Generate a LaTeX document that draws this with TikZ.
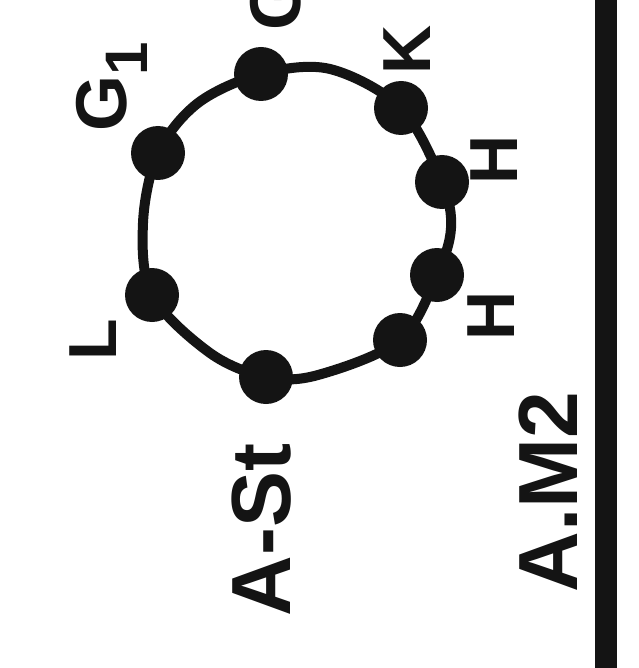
\documentclass[tikz,border=0pt]{standalone}
\usepackage{fontspec}
\setmainfont{Liberation Sans}
\begin{document}
\begin{tikzpicture}[x=1pt,y=1pt,
  dot/.style={circle,fill=ink,draw=none,minimum size=54pt,inner sep=0pt},
  ring/.style={draw=ink,line width=10pt},
  bar/.style={draw=ink,line width=22pt},
  lbl/.style={rotate=90,inner sep=0pt,text=ink,font=\bfseries\fontsize{68}{68}\selectfont},
  biglbl/.style={lbl,font=\bfseries\fontsize{84}{84}\selectfont},
  glbl/.style={lbl,font=\bfseries\fontsize{72}{72}\selectfont}]
\definecolor{ink}{RGB}{20,20,20}
\useasboundingbox (0,0) rectangle (638,-668);
\clip (0,0) rectangle (638,-668);
\fill[white] (0,0) rectangle (638,-668);
% positions on the ring
\coordinate (pg1) at (158,-153);
\coordinate (qtl) at (198,-103);
\coordinate (pg)  at (261,-74);
\coordinate (qt)  at (330,-69);
\coordinate (pk)  at (401,-108);
\coordinate (ph1) at (442,-182);
\coordinate (qr)  at (451,-228);
\coordinate (ph2) at (437,-275);
\coordinate (pbr) at (400,-340);
\coordinate (qb)  at (318,-375);
\coordinate (pas) at (266,-377);
\coordinate (qbl) at (210,-353);
\coordinate (pl)  at (152,-295);
\coordinate (ql)  at (143,-223);
\draw[ring] plot[smooth cycle, tension=0.55] coordinates
  {(pg1) (qtl) (pg) (qt) (pk) (ph1) (qr) (ph2) (pbr) (qb) (pas) (qbl) (pl) (ql)};
% beads
\node[dot] (dg1) at (pg1) {};
\node[dot] (dg)  at (pg)  {};
\node[dot] (dk)  at (pk)  {};
\node[dot] (dh1) at (ph1) {};
\node[dot] (dh2) at (ph2) {};
\node[dot] (dbr) at (pbr) {};
\node[dot] (das) at (pas) {};
\node[dot] (dl)  at (pl)  {};
% labels
\node[glbl, anchor=base west] (lg1) at (126,-132) {G\raisebox{-21pt}{\fontsize{60}{60}\selectfont 1}};
\node[glbl, anchor=base west] (lg) at (300,-31) {G};
\node[lbl] (lk)  at (407,-50)  {K};
\node[lbl] (lh1) at (494,-160) {H};
\node[lbl] (lh2) at (491,-316) {H};
\node[lbl] (ll)  at (93,-340)  {L};
\node[biglbl] (las) at (262,-530) {A-St};
\node[biglbl] (lam) at (548,-492) {A.M2};
% vertical bar
\coordinate (bt) at (606,0);
\coordinate (bb) at (606,-668);
\draw[bar] (bt) -- (bb);
\end{tikzpicture}
\end{document}
